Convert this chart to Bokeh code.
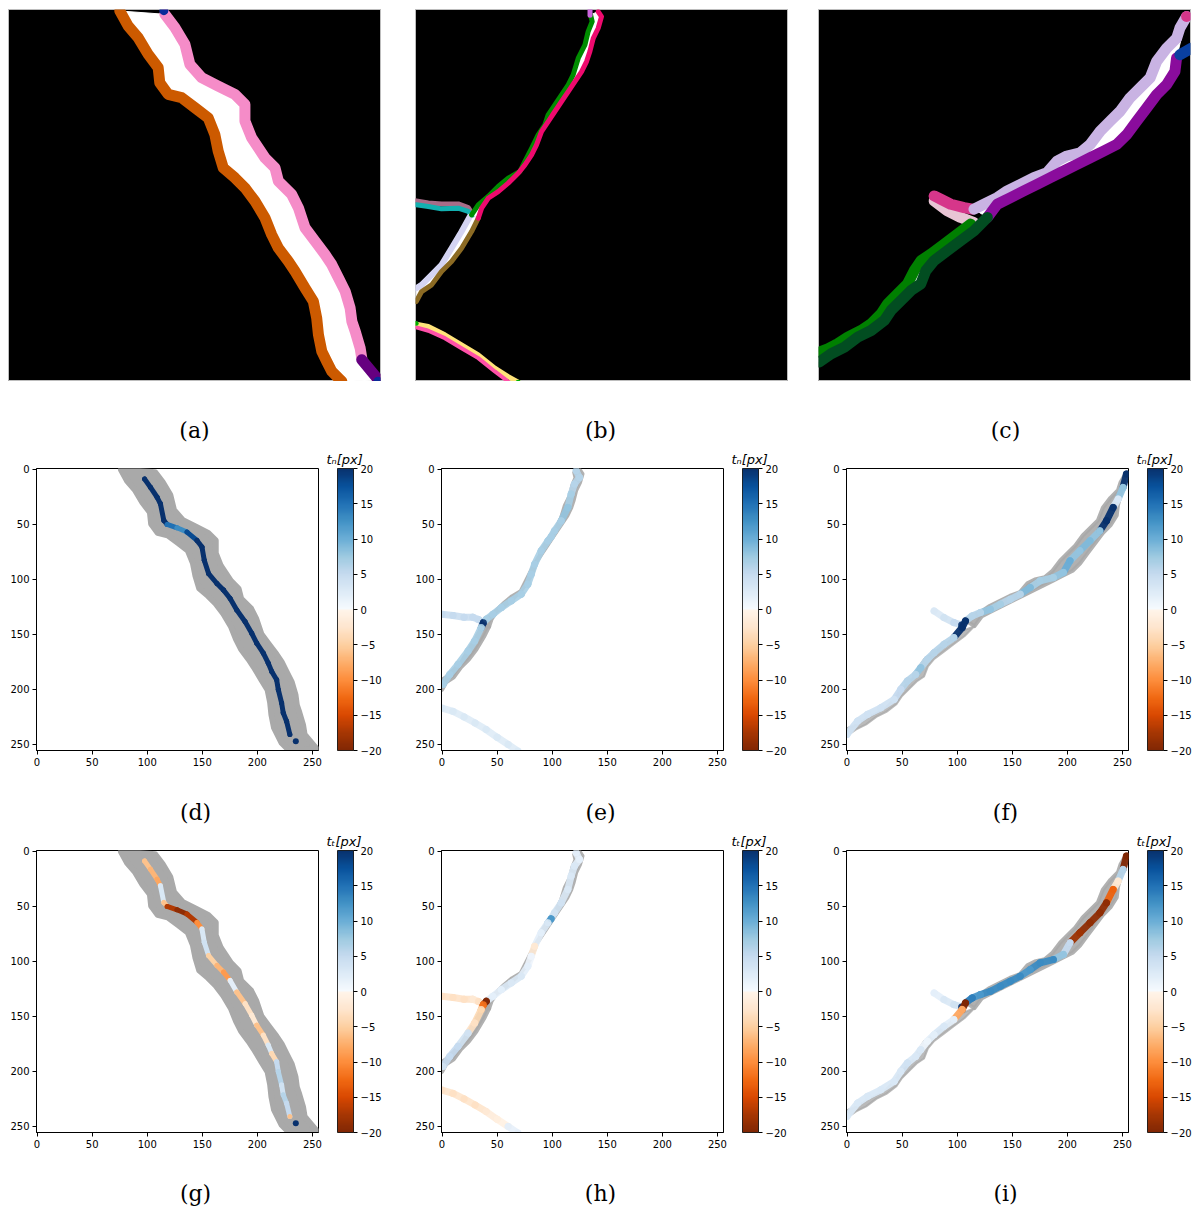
import numpy as np
from bokeh.plotting import figure
from bokeh.models import (Range1d, FixedTicker, ColorBar, LinearColorMapper,
                          CustomJSTickFormatter, ColumnDataSource)
from bokeh.core.properties import value
from bokeh.layouts import column, row
from bokeh.embed import file_html
from bokeh.resources import INLINE

# ---------------- data (image pixel coordinates, 256 x 256) ----------------
# (a) crack edges
A_OR_X = [76.1, 81.8, 88.7, 95.6, 102.5, 103.6, 109.4, 118.6, 127.8, 136.9, 141.5, 143.8, 147.3, 155.3, 162.2,
          169.1, 176.0, 180.6, 185.2, 192.1, 196.7, 203.6, 209.3, 211.6, 212.8, 215.1, 218.5, 222.0, 228.9]
A_OR_Y = [0.5, 10.8, 18.8, 30.3, 39.5, 49.9, 57.9, 60.2, 67.1, 74.0, 85.5, 97.0, 108.5, 115.3, 122.2,
          131.4, 142.9, 154.4, 163.6, 172.8, 179.7, 191.2, 200.4, 211.9, 223.3, 234.8, 241.7, 248.6, 255.5]
A_PK_X = [107.1, 114.0, 120.9, 124.3, 132.4, 143.8, 155.3, 162.2, 162.2, 166.8, 176.0, 182.9, 185.2, 194.4,
          199.0, 203.6, 210.5, 217.4, 222.0, 226.6, 231.2, 234.6, 235.8, 238.1, 241.5, 242.6]
A_PK_Y = [2.8, 11.9, 23.4, 37.2, 46.4, 52.2, 57.9, 64.8, 76.3, 87.8, 101.6, 108.5, 117.6, 126.8,
          136.0, 149.8, 159.0, 168.2, 175.1, 184.3, 193.5, 205.0, 214.2, 221.0, 232.5, 239.4]
A_PU_X = [242.6, 254.1]
A_PU_Y = [240.6, 254.4]
A_DOT_X = [106.4, 253.8]
A_DOT_Y = [0.3, 255.3]

# (d)/(g) crack centre line with normal / tangential displacement
D_X = [97.6, 103.0, 109.0, 112.0, 115.1, 118.1, 127.1, 136.1, 145.2, 149.7, 151.8, 155.7, 163.3, 169.3,
       175.3, 181.3, 188.9, 194.9, 199.4, 205.4, 209.9, 213.0, 217.5, 219.0, 222.0, 223.5, 226.5, 229.5]
D_Y = [9.0, 16.6, 25.6, 31.6, 46.7, 50.3, 53.3, 57.2, 64.8, 70.8, 82.8, 94.9, 103.9, 109.9,
       117.5, 128.0, 138.6, 149.1, 158.1, 167.2, 176.2, 183.7, 191.3, 200.3, 212.3, 221.4, 228.9, 241.0]
D_TN = [20, 20, 20, 20, 20, 15, 13, 18, 20, 20, 20, 20, 20, 20,
        20, 20, 20, 20, 20, 20, 20, 20, 20, 20, 20, 20, 20, 20]
D_TT = [-6, -7, -8, 3, -6, -17, -19, -17, -10, 3, 4, -5, -7, -9,
        2, -6, -3, -2, -6, -3, 3, -4, 5, 6, 4, 6, 5, -6]
D_END_X = [234.9]
D_END_Y = [247.0]
D_END_TN = [20]
D_END_TT = [20]

# (b) crack edges
B_GR_X = [120.0, 121.1, 118.3, 116.1, 111.5, 108.0, 104.6, 100.0, 95.4, 90.8, 88.5, 83.9, 79.4, 74.8,
          71.3, 63.3, 56.4, 49.5, 42.7, 38.1]
B_GR_Y = [3.2, 7.8, 14.7, 23.9, 33.0, 44.5, 51.4, 58.3, 65.1, 72.0, 78.9, 85.8, 95.0, 104.1,
          111.0, 115.6, 121.3, 128.2, 133.9, 140.8]
B_CR_X = [125.2, 127.5, 125.2, 121.8, 119.5, 117.2, 113.8, 109.2, 104.6, 100.0, 95.4, 90.8, 86.2, 82.8,
          79.4, 74.8, 70.2, 63.3, 56.4, 49.5, 45.0, 42.7]
B_CR_Y = [0.9, 4.4, 12.4, 19.3, 28.4, 35.3, 42.2, 49.1, 56.0, 62.8, 69.7, 76.6, 83.5, 92.7,
          99.5, 106.4, 112.2, 119.0, 124.8, 129.4, 136.2, 143.1]
B_VI_X = [119.6, 119.6]
B_VI_Y = [-1.0, 3.5]
B_MA_X = [0.0, 8.3, 17.4, 28.9, 35.8, 38.1]
B_MA_Y = [131.2, 132.6, 133.3, 133.3, 135.8, 139.4]
B_TE_X = [0.0, 8.3, 17.4, 28.9, 35.8, 38.1]
B_TE_Y = [133.9, 135.1, 136.7, 136.2, 138.5, 141.3]
B_LV_X = [36.9, 31.2, 24.3, 17.4, 10.6, 3.7, 0.0]
B_LV_Y = [142.0, 152.3, 163.8, 175.2, 182.1, 189.0, 191.3]
B_BR_X = [42.7, 38.1, 31.2, 24.3, 17.4, 10.6, 3.7, 0.0]
B_BR_Y = [143.1, 152.3, 163.8, 172.9, 179.8, 189.0, 193.6, 200.5]
B_YE_X = [0.0, 8.3, 19.7, 31.2, 42.7, 54.1, 63.3, 70.2]
B_YE_Y = [216.1, 217.7, 223.4, 230.3, 237.2, 246.3, 252.1, 256.0]
B_PK_X = [0.0, 8.3, 19.7, 31.2, 42.7, 54.1, 63.3]
B_PK_Y = [218.3, 220.6, 225.7, 232.6, 239.4, 248.6, 255.5]
B_DOT_X = [0.0, 70.2]
B_DOT_Y = [215.5, 256.0]

# (e)/(h) crack centre lines
E_X = [121.8, 124.8, 120.2, 117.2, 114.2, 108.2, 102.1, 99.0, 96.1, 90.0, 84.0, 81.0, 77.9, 71.9,
       62.8, 53.8, 46.2, 40.2, 37.5, 35.6, 29.6, 23.6, 14.5, 7.0, 0.9]
E_Y = [1.5, 7.6, 13.6, 22.7, 34.8, 47.0, 56.1, 61.5, 65.2, 74.2, 86.4, 95.5, 104.5, 113.6,
       119.7, 125.8, 131.8, 136.4, 139.5, 143.9, 156.1, 165.2, 177.3, 186.4, 195.5]
E_TN = [6, 6, 6, 7, 8, 7, 7, 7, 7, 7, 7, 7, 7, 7,
        7, 7, 7, 7, 20, 7, 7, 7, 7, 7, 7]
E_TT = [2, 2, 3, 3, 3, 4, 4, 12, 3, 2, -2, 1, 2, 3,
        3, 2, 2, -20, -12, -4, -3, 4, 5, 5, 4]
EB_X = [0.0, 10.0, 20.0, 28.0, 33.0, 37.5]
EB_Y = [131.8, 133.0, 134.5, 134.5, 136.5, 139.5]
EB_TN = [5, 5, 5, 5, 5, 20]
EB_TT = [-3, -3, -3, -2, -3, -12]
EL_X = [0.0, 10.0, 20.0, 30.0, 40.0, 50.0, 60.0, 68.9]
EL_Y = [217.0, 220.0, 225.0, 230.5, 236.5, 243.5, 250.0, 256.0]
EL_TN = [3, 3, 3, 3, 3, 3, 3, 3]
EL_TT = [-3, -3, -3, -3, -2, -1, 2, 2]

# (c) crack edges
C_LV_X = [252.8, 248.2, 246.0, 239.1, 232.2, 227.7, 220.8, 213.9, 207.1, 200.2, 193.4, 186.5, 179.7, 170.5,
          163.7, 156.8, 147.7, 138.5, 129.4, 122.5, 113.4, 106.5]
C_LV_Y = [4.3, 12.3, 19.2, 26.1, 35.2, 46.6, 53.5, 60.3, 69.5, 76.3, 83.2, 92.3, 98.1, 100.3,
          103.8, 111.8, 115.2, 119.8, 124.3, 128.9, 133.5, 136.9]
C_PU_X = [245.9, 244.8, 239.1, 232.2, 225.4, 218.5, 211.7, 204.8, 195.7, 186.5, 177.4, 168.2, 159.1, 149.9,
          140.8, 131.7, 122.5, 115.7]
C_PU_Y = [32.9, 42.1, 51.2, 58.1, 67.2, 76.3, 85.5, 92.3, 96.9, 101.5, 106.1, 110.6, 115.2, 119.8,
          124.3, 128.9, 133.5, 142.6]
C_BL_X = [248.2, 256.0]
C_BL_Y = [30.6, 26.1]
C_MG_X = [79.1, 83.7, 90.5, 99.7, 105.4]
C_MG_Y = [127.8, 130.1, 133.5, 135.8, 136.9]
C_LP_X = [79.1, 88.2, 97.4, 106.5]
C_LP_Y = [131.2, 138.1, 142.6, 146.1]
C_GR_X = [104.2, 95.1, 86.0, 76.8, 70.1, 65.4, 60.8, 53.9, 47.1, 42.5, 35.7, 28.8, 19.7, 12.8, 5.9, 0.0]
C_GR_Y = [147.2, 154.1, 160.9, 167.8, 172.3, 179.2, 188.3, 195.2, 202.1, 209.0, 215.8, 220.4, 225.0, 229.5,
          233.0, 235.3]
C_DG_X = [115.7, 106.5, 97.4, 88.2, 79.1, 73.4, 69.9, 63.1, 56.2, 49.4, 44.8, 35.7, 26.5, 17.4, 8.2, 0.0]
C_DG_Y = [142.6, 151.8, 158.6, 165.5, 172.3, 179.2, 188.3, 192.9, 199.8, 206.6, 213.5, 220.4, 225.0, 231.8,
          236.4, 242.1]
C_DOT_X = [252.8]
C_DOT_Y = [4.3]

# (f)/(i) crack centre lines
F_X = [253.6, 250.6, 246.1, 241.6, 235.5, 229.5, 220.5, 211.4, 202.4, 196.4, 187.3, 175.3, 166.3, 157.2,
       148.2, 139.2, 130.1, 121.1, 113.6, 107.5, 104.5, 97.0, 88.0, 79.0, 72.9, 66.9, 62.3, 54.8,
       48.8, 42.8, 30.7, 18.7, 9.6, 0.0]
F_Y = [4.5, 16.7, 27.3, 34.8, 47.0, 56.1, 65.2, 74.2, 83.3, 93.9, 98.5, 101.5, 107.6, 113.6,
       118.2, 122.7, 127.3, 130.3, 133.3, 137.9, 143.9, 153.0, 159.1, 166.7, 172.7, 180.3, 186.4, 192.4,
       200.0, 209.1, 216.7, 222.7, 228.8, 240.9]
F_TN = [20, 8, 3, 20, 20, 8, 9, 8, 10, 8, 7, 7, 9, 6,
        6, 7, 8, 6, 6, 20, 20, 6, 6, 6, 6, 8, 6, 6,
        5, 4, 4, 4, 4, 4]
F_TT = [-20, 6, -2, -13, -19, -19, -19, -18, 5, 8, 13, 13, 12, 13,
        13, 13, 13, 12, 14, -20, -8, 2, 3, 2, 1, 3, 3, 4,
        3, 3, 3, 3, 3, 3]
FB_X = [79.0, 88.0, 97.0, 104.0]
FB_Y = [128.8, 134.8, 139.4, 141.5]
FB_TN = [3, 4, 5, 20]
FB_TT = [2, 3, 4, 20]

AX_TICKS = [0, 50, 100, 150, 200, 250]
CB_TICKS = [-20, -15, -10, -5, 0, 5, 10, 15, 20]
CAPTIONS_1 = ['(a)', '(b)', '(c)']
CAPTIONS_2 = ['(d)', '(e)', '(f)']
CAPTIONS_3 = ['(g)', '(h)', '(i)']

# ---------------- colour map (orange -> white -> blue) ----------------
NEG_ANCHORS = ['#7f2704', '#a63603', '#d94801', '#f16913', '#fd8d3c', '#fdae6b', '#fdd0a2', '#fee6ce', '#fff5eb']
POS_ANCHORS = ['#f7fbff', '#deebf7', '#c6dbef', '#9ecae1', '#6baed6', '#4292c6', '#2171b5', '#08519c', '#08306b']


def _rgb(h):
    return np.array([int(h[i:i + 2], 16) for i in (1, 3, 5)], float)


def _interp(anchors, t):
    n = len(anchors) - 1
    pos = t * n
    i = min(int(pos), n - 1)
    f = pos - i
    c = _rgb(anchors[i]) * (1 - f) + _rgb(anchors[i + 1]) * f
    return '#%02x%02x%02x' % tuple(int(round(v)) for v in c)


PALETTE = []
for k in range(256):
    v = -20 + 40 * (k + 0.5) / 256
    PALETTE.append(_interp(NEG_ANCHORS, (v + 20) / 20) if v < 0 else _interp(POS_ANCHORS, v / 20))
MAPPER = LinearColorMapper(palette=PALETTE, low=-20, high=20)

GRAY = '#a9a9a9'
FONT = 'DejaVu Sans'
SERIF = 'DejaVu Serif'
TOTAL_W = 1198
CELL_W = [405, 405, 388]
IMG_LEFT = [8, 10, 8]
FRAME_IMG = 372
FRAME_DAT = 282
DAT_BOTTOM = 25


def rng():
    return Range1d(-0.5, 255.5), Range1d(255.5, -0.5)


def caption_strip(height, centre_y, xs, texts):
    p = figure(width=TOTAL_W, height=height, x_range=Range1d(0, TOTAL_W), y_range=Range1d(height, 0),
               x_axis_type=None, y_axis_type=None, min_border=0, outline_line_color=None,
               output_backend='svg', toolbar_location=None, background_fill_color='white',
               border_fill_color='white')
    p.grid.visible = False
    p.text(x=xs, y=[centre_y] * len(xs), text=texts, text_font=value(SERIF), text_font_size='22px',
           text_align='center', text_baseline='middle', text_color='black')
    return p


def image_fig(ci):
    xr, yr = rng()
    w = CELL_W[ci]
    p = figure(width=w, height=9 + FRAME_IMG, x_range=xr, y_range=yr, x_axis_type=None, y_axis_type=None,
               min_border_left=IMG_LEFT[ci], min_border_right=w - IMG_LEFT[ci] - FRAME_IMG,
               min_border_top=9, min_border_bottom=0,
               output_backend='svg', toolbar_location=None,
               background_fill_color='black', border_fill_color='white', outline_line_color='#bdbdbd')
    p.grid.visible = False
    return p


def data_fig(ci, top, cb_title):
    xr, yr = rng()
    w = CELL_W[ci]
    p = figure(width=w, height=top + FRAME_DAT + DAT_BOTTOM, x_range=xr, y_range=yr,
               min_border_left=36, min_border_right=w - 36 - FRAME_DAT,
               min_border_top=top, min_border_bottom=DAT_BOTTOM,
               output_backend='svg', toolbar_location=None,
               background_fill_color='white', border_fill_color='white',
               outline_line_color='black', outline_line_width=1)
    p.grid.visible = False
    # colour-bar label, placed above the colour bar
    p.title.text = cb_title
    p.title.align = 'left'
    p.title.offset = 290
    p.title.standoff = 4
    p.title.text_font = FONT
    p.title.text_font_size = '13px'
    p.title.text_font_style = 'italic'
    p.title.text_color = 'black'
    for ax in (p.xaxis[0], p.yaxis[0]):
        ax.ticker = FixedTicker(ticks=AX_TICKS)
        ax.major_label_text_font = FONT
        ax.major_label_text_font_size = '10px'
        ax.major_label_text_color = 'black'
        ax.axis_line_color = 'black'
        ax.major_tick_line_color = 'black'
        ax.major_tick_in = 0
        ax.major_tick_out = 4
        ax.minor_tick_line_color = None
        ax.major_label_standoff = 3
    cb = ColorBar(color_mapper=MAPPER, ticker=FixedTicker(ticks=CB_TICKS), width=16, height=FRAME_DAT,
                  padding=0, margin=0, location=(19, 0),
                  formatter=CustomJSTickFormatter(code="return tick < 0 ? '\u2212' + (-tick) : String(tick);"),
                  major_tick_in=0, major_tick_out=4, major_tick_line_color='black',
                  bar_line_color='black', bar_line_width=0.8, label_standoff=3,
                  major_label_text_font=FONT, major_label_text_font_size='10px',
                  major_label_text_color='black', background_fill_alpha=0)
    p.add_layout(cb, 'right')
    return p


def edge(p, xs, ys, color, w):
    p.line(xs, ys, line_color=color, line_width=w, line_cap='round', line_join='round')


def fill_between(p, lx, ly, rx, ry, color, lw=1, alpha=1.0):
    p.patch(list(lx) + list(rx)[::-1], list(ly) + list(ry)[::-1], fill_color=color, line_color=color,
            line_width=lw, fill_alpha=alpha, line_alpha=alpha, line_join='round')


def path(p, xs, ys, vals, w, alpha=1.0):
    seg = ColumnDataSource(dict(x0=xs[:-1], y0=ys[:-1], x1=xs[1:], y1=ys[1:], v=vals[:-1]))
    p.segment('x0', 'y0', 'x1', 'y1', source=seg, line_color={'field': 'v', 'transform': MAPPER},
              line_width=w, line_cap='round', line_alpha=alpha)
    pts = ColumnDataSource(dict(x=xs, y=ys, v=vals))
    p.scatter('x', 'y', source=pts, size=w, marker='circle', fill_color={'field': 'v', 'transform': MAPPER},
              line_color=None, fill_alpha=alpha)


# ---------------- row 1: images ----------------
pa = image_fig(0)
fill_between(pa, A_OR_X, A_OR_Y, A_PK_X + A_PU_X, A_PK_Y + A_PU_Y, 'white')
edge(pa, A_OR_X, A_OR_Y, '#cc5a00', 11)
edge(pa, A_PK_X, A_PK_Y, '#f58cc8', 11)
edge(pa, A_PU_X, A_PU_Y, '#660080', 11)
pa.scatter(A_DOT_X, A_DOT_Y, size=9, marker='circle', fill_color='#0a2a9a', line_color=None)

pb = image_fig(1)
fill_between(pb, B_GR_X, B_GR_Y, B_CR_X, B_CR_Y, 'white')
fill_between(pb, B_LV_X, B_LV_Y, B_BR_X, B_BR_Y, 'white')
edge(pb, B_MA_X, B_MA_Y, '#a86c88', 5)
edge(pb, B_TE_X, B_TE_Y, '#12b0b0', 5)
edge(pb, B_LV_X, B_LV_Y, '#d4d4f2', 6)
edge(pb, B_BR_X, B_BR_Y, '#8b6a23', 5)
edge(pb, B_GR_X, B_GR_Y, '#008c00', 5)
edge(pb, B_CR_X, B_CR_Y, '#ee0a6e', 5)
edge(pb, B_YE_X, B_YE_Y, '#ffe37a', 5)
edge(pb, B_PK_X, B_PK_Y, '#ff50a8', 4)
edge(pb, B_VI_X, B_VI_Y, '#cc66dd', 5)
pb.scatter(B_DOT_X, B_DOT_Y, size=5, marker='circle', fill_color='#00b000', line_color=None)

pc = image_fig(2)
fill_between(pc, C_LV_X, C_LV_Y, C_PU_X, C_PU_Y, 'white')
fill_between(pc, C_GR_X, C_GR_Y, C_DG_X, C_DG_Y, 'white')
edge(pc, C_LP_X, C_LP_Y, '#e8c4d4', 11)
edge(pc, C_MG_X, C_MG_Y, '#d6368a', 11)
edge(pc, C_LV_X, C_LV_Y, '#c9b3e3', 11)
edge(pc, C_PU_X, C_PU_Y, '#8a0c9c', 11)
edge(pc, C_BL_X, C_BL_Y, '#0a40a0', 11)
edge(pc, C_GR_X, C_GR_Y, '#008000', 11)
edge(pc, C_DG_X, C_DG_Y, '#024d21', 11)
pc.scatter(C_DOT_X, C_DOT_Y, size=11, marker='circle', fill_color='#d6368a', line_color=None)

# ---------------- rows 2 & 3: displacement maps ----------------
TN = 't\u2099[px]'
TT = 't\u209c[px]'

figs2 = []
figs3 = []
for r, (top, title, key) in enumerate([(23, TN, 'tn'), (22, TT, 'tt')]):
    tn = key == 'tn'
    pd_ = data_fig(0, top, title)
    fill_between(pd_, A_OR_X, A_OR_Y, A_PK_X + A_PU_X, A_PK_Y + A_PU_Y, GRAY, lw=6)
    path(pd_, D_X, D_Y, D_TN if tn else D_TT, 5)
    path(pd_, D_END_X, D_END_Y, D_END_TN if tn else D_END_TT, 6)

    pe_ = data_fig(1, top, title)
    fill_between(pe_, B_GR_X, B_GR_Y, B_CR_X, B_CR_Y, GRAY, lw=4, alpha=0.9)
    fill_between(pe_, B_LV_X, B_LV_Y, B_BR_X, B_BR_Y, GRAY, lw=4, alpha=0.9)
    path(pe_, EL_X, EL_Y, EL_TN if tn else EL_TT, 7, 0.8)
    path(pe_, EB_X, EB_Y, EB_TN if tn else EB_TT, 7, 0.85)
    path(pe_, E_X, E_Y, E_TN if tn else E_TT, 7, 0.9)

    pf_ = data_fig(2, top, title)
    fill_between(pf_, C_LV_X, C_LV_Y, C_PU_X, C_PU_Y, GRAY, lw=4, alpha=0.9)
    fill_between(pf_, C_GR_X, C_GR_Y, C_DG_X, C_DG_Y, GRAY, lw=2, alpha=0.8)
    path(pf_, FB_X, FB_Y, FB_TN if tn else FB_TT, 7, 0.9)
    path(pf_, F_X, F_Y, F_TN if tn else F_TT, 7, 0.95)

    (figs2 if r == 0 else figs3).extend([pd_, pe_, pf_])

# heights: 381 + 64 + 330 + 53 + 329 + 54 = 1211
cap1 = caption_strip(64, 49, [194, 600, 1005], CAPTIONS_1)
cap2 = caption_strip(53, 37, [195, 600, 1005], CAPTIONS_2)
cap3 = caption_strip(54, 36, [195, 600, 1005], CAPTIONS_3)

layout = column(row(pa, pb, pc), cap1, row(*figs2), cap2, row(*figs3), cap3)
open("out.html", "w").write(file_html(layout, INLINE))
